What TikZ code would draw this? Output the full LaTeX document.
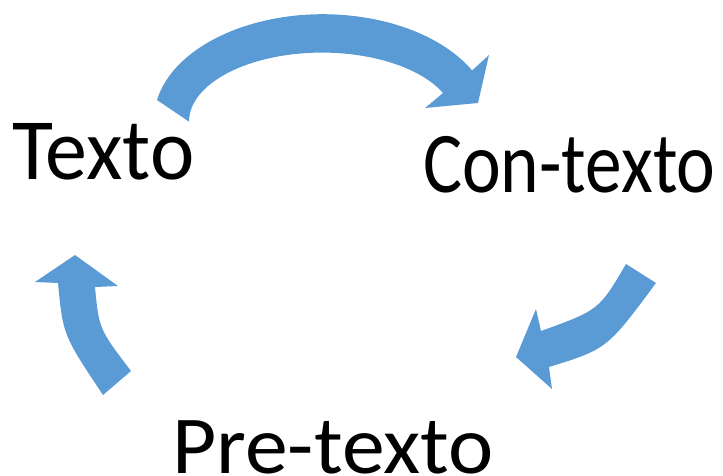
\documentclass[tikz,border=0pt]{standalone}
\usepackage{fontspec}
\setmainfont{Carlito}
\definecolor{arrowblue}{HTML}{5B9BD5}
\tikzset{
  lbl/.style={anchor=base west, inner sep=0pt, font=\fontsize{84}{100}\selectfont, text=black},
  blockarrow/.style={fill=arrowblue, draw=none}
}
\begin{document}
\begin{tikzpicture}[x=1pt,y=-1pt]
\useasboundingbox (0,0) rectangle (723,476);
% labels
\node[lbl] (texto) at (12,179) {\scalebox{1.0}[1.04]{Texto}};
\node[lbl] (contexto) at (423,192) {\scalebox{0.873}[1.03]{Con-texto}};
\node[lbl] (pretexto) at (172,473) {\scalebox{1.02}[0.98]{Pre-texto}};
% top arrow: Texto -> Con-texto
\fill[blockarrow] (157,100) arc[start angle=-169, end angle=-28, x radius=169, y radius=106]
  -- (489,55) -- (478,103) -- (425,108) -- (443,93)
  arc[start angle=-24.5, end angle=-180, x radius=133, y radius=69] -- cycle;
% right arrow: Con-texto -> Pre-texto
\fill[blockarrow] (626,264) -- (656,283) .. controls (607,349) .. (549,367)
  -- (552,389) -- (516,357) -- (536,309) -- (541,331)
  .. controls (599,310) .. (626,264) -- cycle;
% left arrow: Pre-texto -> Texto
\fill[blockarrow] (103,395) -- (131,371) .. controls (99,329) .. (95,287)
  -- (118,286) -- (75,255) -- (35,282) -- (58,283)
  .. controls (63,335) .. (103,395) -- cycle;
\end{tikzpicture}
\end{document}
